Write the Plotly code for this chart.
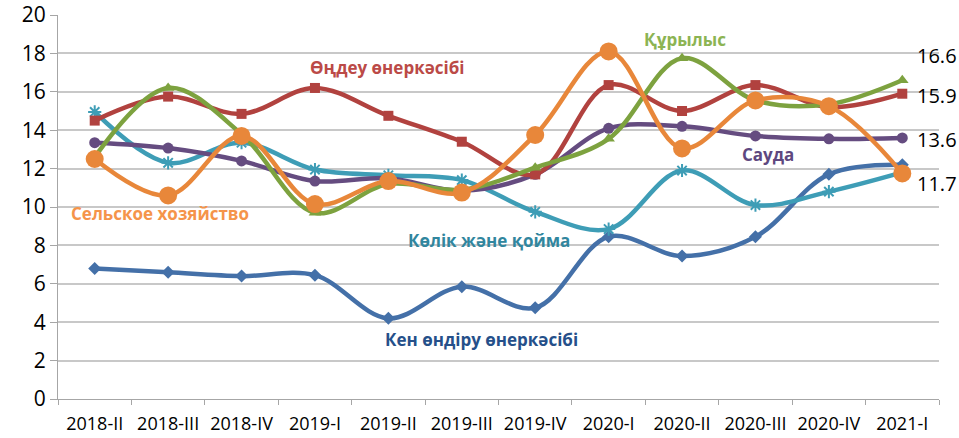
import plotly.graph_objects as go

categories = ["2018-II", "2018-III", "2018-IV", "2019-I", "2019-II", "2019-III",
              "2019-IV", "2020-I", "2020-II", "2020-III", "2020-IV", "2021-I"]

ken = [6.8, 6.6, 6.4, 6.45, 4.2, 5.85, 4.75, 8.45, 7.45, 8.45, 11.7, 12.2]
ondeu = [14.5, 15.75, 14.85, 16.2, 14.75, 13.4, 11.7, 16.35, 15.0, 16.35, 15.2, 15.9]
qurylys = [12.6, 16.2, 13.8, 9.7, 11.2, 10.9, 12.05, 13.55, 17.75, 15.55, 15.35, 16.6]
sauda = [13.35, 13.07, 12.4, 11.35, 11.5, 10.85, 11.7, 14.1, 14.2, 13.7, 13.55, 13.6]
kolik = [14.95, 12.3, 13.35, 11.95, 11.65, 11.4, 9.75, 8.85, 11.9, 10.1, 10.8, 11.8]
selskoe = [12.5, 10.6, 13.7, 10.15, 11.35, 10.75, 13.75, 18.1, 13.05, 15.55, 15.25, 11.75]

series_names = ["Кен өндіру өнеркәсібі", "Өңдеу өнеркәсібі", "Құрылыс", "Сауда",
                "Көлік және қойма", "Сельское хозяйство"]
end_labels = ["16.6", "15.9", "13.6", "11.7"]

FONT = "Open Sans"

fig = go.Figure()

def add(y, name, color, symbol, size, lw=0):
    fig.add_trace(go.Scatter(
        x=categories, y=y, name=name, mode="lines+markers",
        line=dict(color=color, width=4.5, shape="spline", smoothing=1.0),
        marker=dict(symbol=symbol, size=size, color=color,
                    line=dict(color=color, width=lw)),
        showlegend=False))

add(ken, series_names[0], "#4470A8", "diamond", 10)
add(kolik, series_names[4], "#3E9DB6", "asterisk-open", 11, 2)
add(sauda, series_names[3], "#654C80", "circle", 11)
add(ondeu, series_names[1], "#B1423F", "square", 10)
add(qurylys, series_names[2], "#7DA23F", "triangle-up", 11)
add(selskoe, series_names[5], "#E8873A", "circle", 18)

# series name annotations (x = category index, y = value)
labels = [
    (series_names[1], 3.98, 17.29, "#BB4A47"),
    (series_names[5], 0.89, 9.64, "#F5944A"),
    (series_names[4], 5.37, 8.28, "#31869E"),
    (series_names[0], 5.27, 3.12, "#25508A"),
    (series_names[2], 8.04, 18.7, "#8CB453"),
    (series_names[3], 9.17, 12.71, "#5E4880"),
]
for text, xc, yv, col in labels:
    fig.add_annotation(x=xc, y=yv, text="<b>" + text + "</b>", showarrow=False,
                       font=dict(family=FONT, size=17, color=col))

end_pos = [17.9, 15.8, 13.5, 11.25]
for t, v in zip(end_labels, end_pos):
    fig.add_annotation(x=1.0, xref="paper", y=v, text=t, showarrow=False,
                       xanchor="left", xshift=-24,
                       font=dict(family=FONT, size=20, color="#000000"))

fig.update_layout(
    width=959, height=438,
    margin=dict(l=58, r=20, t=15, b=39),
    paper_bgcolor="white", plot_bgcolor="white",
    font=dict(family=FONT, color="#000000"),
)
fig.update_xaxes(
    type="category", tickson="boundaries", ticks="outside", ticklen=5,
    tickcolor="#A6A6A6", showline=True, linecolor="#A6A6A6", linewidth=1,
    showgrid=False, tickfont=dict(family=FONT, size=18, color="#000000"),
    range=[-0.5, 11.5], automargin=False, ticklabelstandoff=8,
)
fig.update_yaxes(
    range=[0, 20], dtick=2, ticks="outside", ticklen=7, tickcolor="#A6A6A6",
    showline=True, linecolor="#A6A6A6", linewidth=1,
    showgrid=True, gridcolor="#C8C8C8", gridwidth=1.5, zeroline=False,
    tickfont=dict(family=FONT, size=21, color="#000000"), automargin=False,
)

fig.write_html("out.html", config={"displayModeBar": False},
               post_script="document.body.style.margin='0';")
